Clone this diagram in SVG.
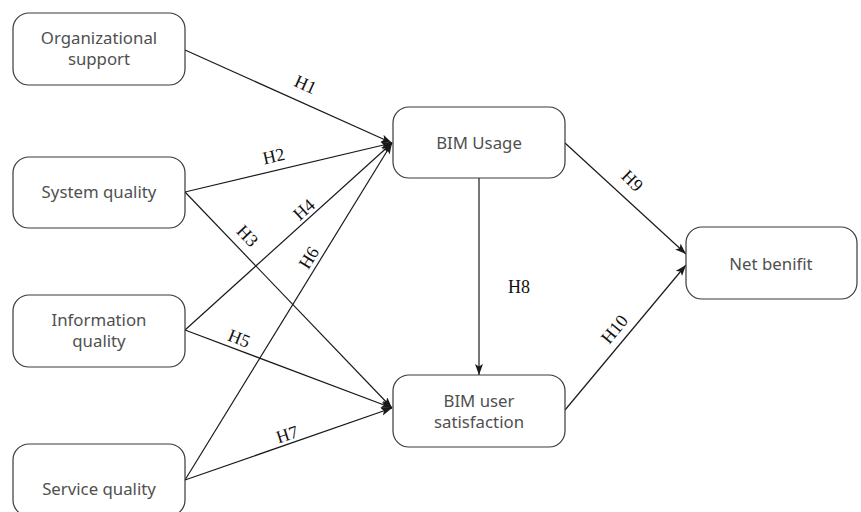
<svg xmlns="http://www.w3.org/2000/svg" width="861" height="512" viewBox="0 0 861 512">
<defs>
<marker id="arr" markerUnits="userSpaceOnUse" markerWidth="12" markerHeight="10" refX="11" refY="4" orient="auto">
<path d="M0,0 L11,4 L0,8 L2.5,4 Z" fill="#1a1a1a"/>
</marker>
<style>
.box{fill:#fff;stroke:#3a3a3a;stroke-width:1.2}
.nt{font-family:"Noto Sans","Open Sans",sans-serif;font-size:16.8px;fill:#505050;text-anchor:middle}
.ln{stroke:#1a1a1a;stroke-width:1.2;fill:none;marker-end:url(#arr)}
.lb{font-family:"Liberation Serif","Times New Roman",serif;font-size:18px;fill:#111;text-anchor:middle}
</style>
</defs>
<rect width="861" height="512" fill="#fff"/>
<g id="connectors">
<line class="ln" x1="185" y1="50" x2="392" y2="143"/>
<line class="ln" x1="185" y1="192" x2="392" y2="143"/>
<line class="ln" x1="185" y1="192" x2="392" y2="408"/>
<line class="ln" x1="185" y1="330" x2="392" y2="143"/>
<line class="ln" x1="185" y1="330" x2="392" y2="408"/>
<line class="ln" x1="185" y1="480" x2="392" y2="143"/>
<line class="ln" x1="185" y1="480" x2="392" y2="408"/>
<line class="ln" x1="479" y1="178" x2="479" y2="375"/>
<line class="ln" x1="565" y1="143" x2="686" y2="254"/>
<line class="ln" x1="565" y1="410" x2="686" y2="265"/>
<text class="lb" transform="translate(303,90) rotate(24.5)">H1</text>
<text class="lb" transform="translate(275,162) rotate(-12.5)">H2</text>
<text class="lb" transform="translate(243,240) rotate(46.5)">H3</text>
<text class="lb" transform="translate(308,214) rotate(-42)">H4</text>
<text class="lb" transform="translate(237,344) rotate(21.5)">H5</text>
<text class="lb" transform="translate(314,261) rotate(-58.3)">H6</text>
<text class="lb" transform="translate(289,440) rotate(-18)">H7</text>
<text class="lb" x="519" y="293">H8</text>
<text class="lb" transform="translate(628,185) rotate(44.8)">H9</text>
<text class="lb" transform="translate(619,333) rotate(-50.5)">H10</text>
</g>
<g id="org">
<rect class="box" x="13" y="13" width="172" height="72" rx="16"/>
<text class="nt" x="99" y="44">Organizational</text>
<text class="nt" x="99" y="65">support</text>
</g>
<g id="sys">
<rect class="box" x="13" y="157" width="172" height="71" rx="16"/>
<text class="nt" x="99" y="198">System quality</text>
</g>
<g id="info">
<rect class="box" x="13" y="295" width="172" height="72" rx="16"/>
<text class="nt" x="99" y="326">Information</text>
<text class="nt" x="99" y="347">quality</text>
</g>
<g id="serv">
<rect class="box" x="13" y="444" width="172" height="72" rx="16"/>
<text class="nt" x="99" y="495">Service quality</text>
</g>
<g id="usage">
<rect class="box" x="393" y="107" width="172" height="71" rx="16"/>
<text class="nt" x="479" y="149">BIM Usage</text>
</g>
<g id="satis">
<rect class="box" x="393" y="375" width="172" height="72" rx="16"/>
<text class="nt" x="479" y="407">BIM user</text>
<text class="nt" x="479" y="428">satisfaction</text>
</g>
<g id="net">
<rect class="box" x="686" y="227" width="171" height="72" rx="16"/>
<text class="nt" x="771" y="270">Net benifit</text>
</g>
</svg>
